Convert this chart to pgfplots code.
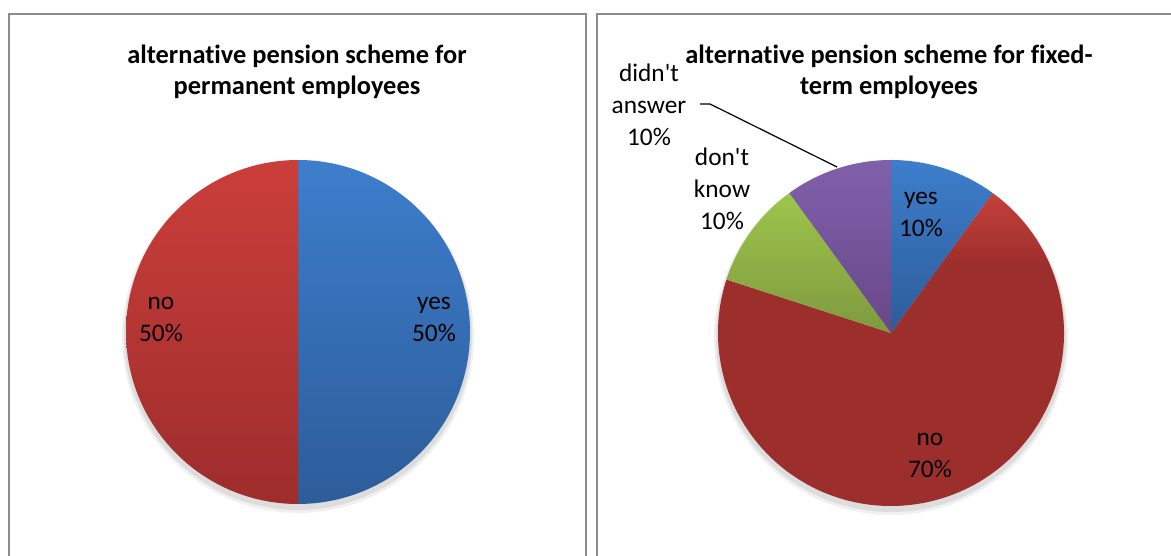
\documentclass[border=0pt]{standalone}
\usepackage{pgfplots}
\pgfplotsset{compat=1.18}
\usepackage{fontspec}
\setmainfont{Carlito}[Ligatures={TeX,NoCommon}]

\definecolor{bTop}{HTML}{3D7ECC}
\definecolor{bBot}{HTML}{2D5C99}
\definecolor{rTop}{HTML}{CB3E3A}
\definecolor{rBot}{HTML}{9D2D2C}
\definecolor{rMid}{HTML}{9C2E2C}
\definecolor{rTip}{HTML}{C5403B}
\definecolor{gTop}{HTML}{9EC54C}
\definecolor{gBot}{HTML}{7E9A3E}
\definecolor{pTop}{HTML}{8060AB}
\definecolor{pBot}{HTML}{684888}
\definecolor{frame}{HTML}{8C8C8C}

\pgfdeclareverticalshading{noshade}{100bp}{color(0bp)=(rMid); color(64bp)=(rMid); color(75bp)=(rTip); color(100bp)=(rTip)}

% running start angle of the current pie
\newcommand\startpie{\gdef\curang{90}}
% #1 cx, #2 cy, #3 radius (axis units), #4 percent, #5 fill options
\newcommand\slice[5]{%
  \pgfmathsetmacro\sE{\curang-3.6*#4}%
  \pgfmathsetmacro\sx{#1+#3*cos(\curang)}%
  \pgfmathsetmacro\sy{#2+#3*sin(\curang)}%
  \pgfmathsetmacro\sr{#3*0.75}%
  \edef\doslice{\noexpand\path[#5] (axis cs:#1,#2) -- (axis cs:\sx,\sy) arc[start angle=\curang, end angle=\sE, radius=\sr pt] -- cycle;}%
  \doslice
  \xdef\curang{\sE}%
}

\begin{document}
\begin{tikzpicture}
\begin{axis}[at={(0,0)}, anchor=south west, width=878.25pt, height=417pt,
  scale only axis, xmin=0, xmax=1171, ymin=0, ymax=556, hide axis, clip=false]

% panel frames
\draw[frame, line width=1.1pt] (axis cs:9,-60) -- (axis cs:9,542) -- (axis cs:586,542) -- (axis cs:586,-60);
\draw[frame, line width=1.1pt] (axis cs:597,-60) -- (axis cs:597,542) -- (axis cs:1200,542);

% soft shadows
\fill[black, opacity=0.06] (axis cs:298,219) circle[radius=132pt];
\fill[black, opacity=0.08] (axis cs:298,220) circle[radius=130.5pt];
\fill[black, opacity=0.06] (axis cs:891,218) circle[radius=132.75pt];
\fill[black, opacity=0.08] (axis cs:891,219) circle[radius=131.25pt];

% left pie: permanent employees (yes 50, no 50)
\startpie
\slice{298}{224}{172}{50}{top color=bTop,bottom color=bBot}
\slice{298}{224}{172}{50}{top color=rTop,bottom color=rBot}

% right pie: fixed-term employees (yes 10, no 70, don't know 10, didn't answer 10)
\startpie
\slice{891}{223}{173}{10}{top color=bTop,bottom color=bBot}
\slice{891}{223}{173}{70}{shading=noshade}
\slice{891}{223}{173}{10}{top color=gTop,bottom color=gBot}
\slice{891}{223}{173}{10}{top color=pTop,bottom color=pBot}

% titles
\node[font=\fontsize{19.8pt}{23.25pt}\selectfont\bfseries, align=center] at (axis cs:297,484)
  {alternative pension scheme for\\permanent employees};
\node[font=\fontsize{19.8pt}{23.25pt}\selectfont\bfseries, align=center] at (axis cs:889,484)
  {alternative pension scheme for fixed-\\term employees};

% data labels
\node[font=\fontsize{19pt}{24pt}\selectfont, align=center] at (axis cs:434,237) {yes\\50\%};
\node[font=\fontsize{19pt}{24pt}\selectfont, align=center] at (axis cs:161,237) {no\\50\%};
\node[font=\fontsize{19pt}{24pt}\selectfont, align=center] at (axis cs:921,342) {yes\\10\%};
\node[font=\fontsize{19pt}{24pt}\selectfont, align=center] at (axis cs:930,101) {no\\70\%};
\node[font=\fontsize{19pt}{24pt}\selectfont, align=center] at (axis cs:722,367) {don\textquotesingle t\\know\\10\%};
\node[font=\fontsize{19pt}{24pt}\selectfont, align=center] at (axis cs:649,451) {didn\textquotesingle t\\answer\\10\%};
\draw[black, line width=0.9pt] (axis cs:700,452) -- (axis cs:710,452) -- (axis cs:837,389);
\end{axis}
\pgfresetboundingbox
\path (0,0) rectangle (878.25pt,417pt);
\end{tikzpicture}
\end{document}
